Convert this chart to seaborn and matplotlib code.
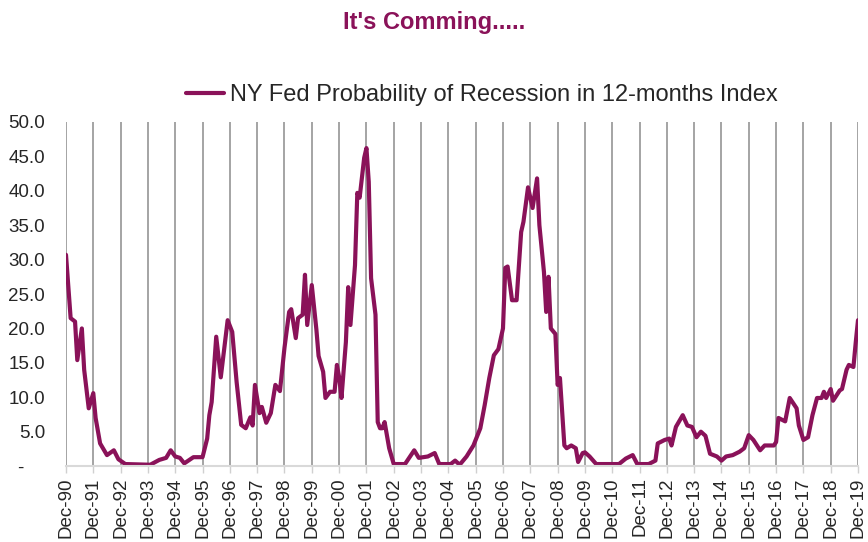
# %%
import pandas as pd
import numpy as np
import matplotlib
matplotlib.use("Agg")
import matplotlib.pyplot as plt
import matplotlib.dates as mdates
from matplotlib.ticker import FixedLocator, FuncFormatter
import seaborn as sns

# %%
# NY Fed recession probability (month, %)
months = [
    "1990-12", "1991-01", "1991-02", "1991-04", "1991-05", "1991-07", "1991-08", "1991-10",
    "1991-12", "1992-01", "1992-03", "1992-06", "1992-09", "1992-11", "1993-02", "1994-01",
    "1994-05", "1994-08", "1994-10", "1994-12", "1995-02", "1995-04", "1995-08", "1995-12",
    "1996-02", "1996-03", "1996-04", "1996-06", "1996-08", "1996-11", "1997-01", "1997-03",
    "1997-05", "1997-07", "1997-09", "1997-10", "1997-11", "1998-01", "1998-02", "1998-04",
    "1998-06", "1998-08", "1998-10", "1998-12", "1999-02", "1999-03", "1999-05", "1999-06",
    "1999-08", "1999-09", "1999-10", "1999-12", "2000-02", "2000-03", "2000-05", "2000-06",
    "2000-08", "2000-10", "2000-11", "2000-12", "2001-01", "2001-03", "2001-04", "2001-05",
    "2001-07", "2001-08", "2001-09", "2001-11", "2001-12", "2002-01", "2002-02", "2002-04",
    "2002-05", "2002-06", "2002-07", "2002-08", "2002-10", "2002-12", "2003-05", "2003-09",
    "2003-11", "2004-03", "2004-06", "2004-08", "2005-01", "2005-03", "2005-05", "2005-08",
    "2005-11", "2006-02", "2006-04", "2006-06", "2006-08", "2006-10", "2006-12", "2007-01",
    "2007-02", "2007-04", "2007-06", "2007-08", "2007-09", "2007-11", "2007-12", "2008-01",
    "2008-03", "2008-04", "2008-06", "2008-07", "2008-08", "2008-09", "2008-11", "2008-12",
    "2009-01", "2009-03", "2009-04", "2009-06", "2009-08", "2009-09", "2009-11", "2009-12",
    "2010-02", "2010-05", "2011-03", "2011-06", "2011-09", "2011-11", "2012-04", "2012-07",
    "2012-08", "2012-11", "2013-01", "2013-02", "2013-04", "2013-07", "2013-09", "2013-11",
    "2014-01", "2014-03", "2014-05", "2014-07", "2014-10", "2014-12", "2015-02", "2015-05",
    "2015-08", "2015-10", "2015-12", "2016-02", "2016-05", "2016-07", "2016-11", "2016-12",
    "2017-01", "2017-04", "2017-06", "2017-09", "2017-10", "2017-12", "2018-02", "2018-04",
    "2018-06", "2018-08", "2018-09", "2018-10", "2018-12", "2019-01", "2019-04", "2019-05",
    "2019-07", "2019-08", "2019-10", "2019-11", "2019-12",
]
prob = [
    30.7, 26.0, 21.5, 21.0, 15.4, 20.0, 14.0, 8.4,
    10.6, 7.0, 3.3, 1.6, 2.3, 1.0, 0.3, 0.2,
    0.9, 1.2, 2.3, 1.4, 1.2, 0.4, 1.3, 1.3,
    4.0, 7.4, 9.3, 18.8, 12.9, 21.2, 19.5, 12.2,
    6.0, 5.5, 7.1, 5.9, 11.8, 7.7, 8.6, 6.3,
    7.7, 11.8, 10.9, 17.2, 22.4, 22.8, 18.6, 21.5,
    22.0, 27.8, 20.5, 26.3, 19.8, 16.0, 13.7, 9.9,
    10.8, 10.8, 14.7, 12.9, 9.9, 18.0, 26.0, 20.5,
    29.2, 39.7, 39.0, 44.8, 46.2, 41.3, 27.3, 22.0,
    6.4, 5.5, 5.5, 6.4, 2.6, 0.3, 0.3, 2.3,
    1.2, 1.4, 1.9, 0.3, 0.3, 0.8, 0.2, 1.4,
    3.0, 5.5, 8.9, 12.8, 16.1, 17.0, 20.0, 28.8,
    29.0, 24.1, 24.1, 34.0, 35.5, 40.5, 39.0, 37.5,
    41.8, 35.0, 28.2, 22.4, 27.5, 20.0, 19.2, 11.8,
    12.8, 3.0, 2.6, 3.0, 2.6, 0.6, 1.9, 2.0,
    1.4, 0.3, 0.3, 1.1, 1.6, 0.3, 0.3, 0.8,
    3.3, 3.8, 4.0, 3.0, 5.7, 7.4, 5.9, 5.7,
    4.2, 5.0, 4.4, 1.8, 1.4, 0.8, 1.4, 1.6,
    2.1, 2.6, 4.5, 3.8, 2.3, 3.0, 3.0, 3.5,
    7.0, 6.5, 9.9, 8.4, 5.9, 3.8, 4.2, 7.4,
    9.9, 9.9, 10.8, 9.9, 11.2, 9.5, 11.0, 11.2,
    14.0, 14.7, 14.4, 18.0, 21.2,
]
series_name = "NY Fed Probability of Recession in 12-months Index"
title = "It's Comming....."
y_ticks = [0, 5, 10, 15, 20, 25, 30, 35, 40, 45, 50]

df = pd.DataFrame({"date": pd.to_datetime(months), "prob": prob})

# %%
sns.set_style("white")
plt.rcParams["font.family"] = ["Liberation Sans", "DejaVu Sans"]

line_col = "#8a1259"

fig = plt.figure(figsize=(8.68, 5.42), dpi=100)
ax = fig.add_axes([66 / 868, 0.140, (858 - 66) / 868, 0.635])

sns.lineplot(data=df, x="date", y="prob", color=line_col, linewidth=3.0,
             label=series_name, ax=ax, legend=False)

ax.set_ylim(0, 50)
ax.set_xlim(pd.Timestamp("1990-12-01"), pd.Timestamp("2019-12-01"))

dec_ticks = pd.date_range("1990-12-01", "2019-12-01", freq="12MS")
ax.xaxis.set_major_locator(FixedLocator(mdates.date2num(dec_ticks)))
ax.xaxis.set_major_formatter(mdates.DateFormatter("%b-%y"))
ax.set_yticks(y_ticks)
ax.yaxis.set_major_formatter(FuncFormatter(lambda v, p: "-    " if v == 0 else f"{v:.1f}"))

ax.tick_params(axis="x", rotation=90, labelsize=13.5, length=5, color="#d0d0d0",
               width=1, pad=3, bottom=True)
ax.tick_params(axis="y", labelsize=13.5, length=0, pad=15)

ax.grid(axis="x", color="#8c8c8c", linewidth=1.1)
ax.grid(axis="y", visible=False)
for s in ["top", "right", "left"]:
    ax.spines[s].set_visible(False)
ax.spines["bottom"].set_color("#d9d9d9")
ax.spines["bottom"].set_linewidth(1.5)
ax.set_xlabel("")
ax.set_ylabel("")

fig.text(0.5, 1 - 22 / 542, title, ha="center", va="center", fontsize=17,
         fontweight="bold", color=line_col)

handles, labels = ax.get_legend_handles_labels()
fig.legend(handles, labels, loc="center", bbox_to_anchor=(482 / 868, 1 - 95 / 542),
           frameon=False, fontsize=17, handlelength=1.6, handletextpad=0.25)

fig.savefig("out.png", dpi=100)
